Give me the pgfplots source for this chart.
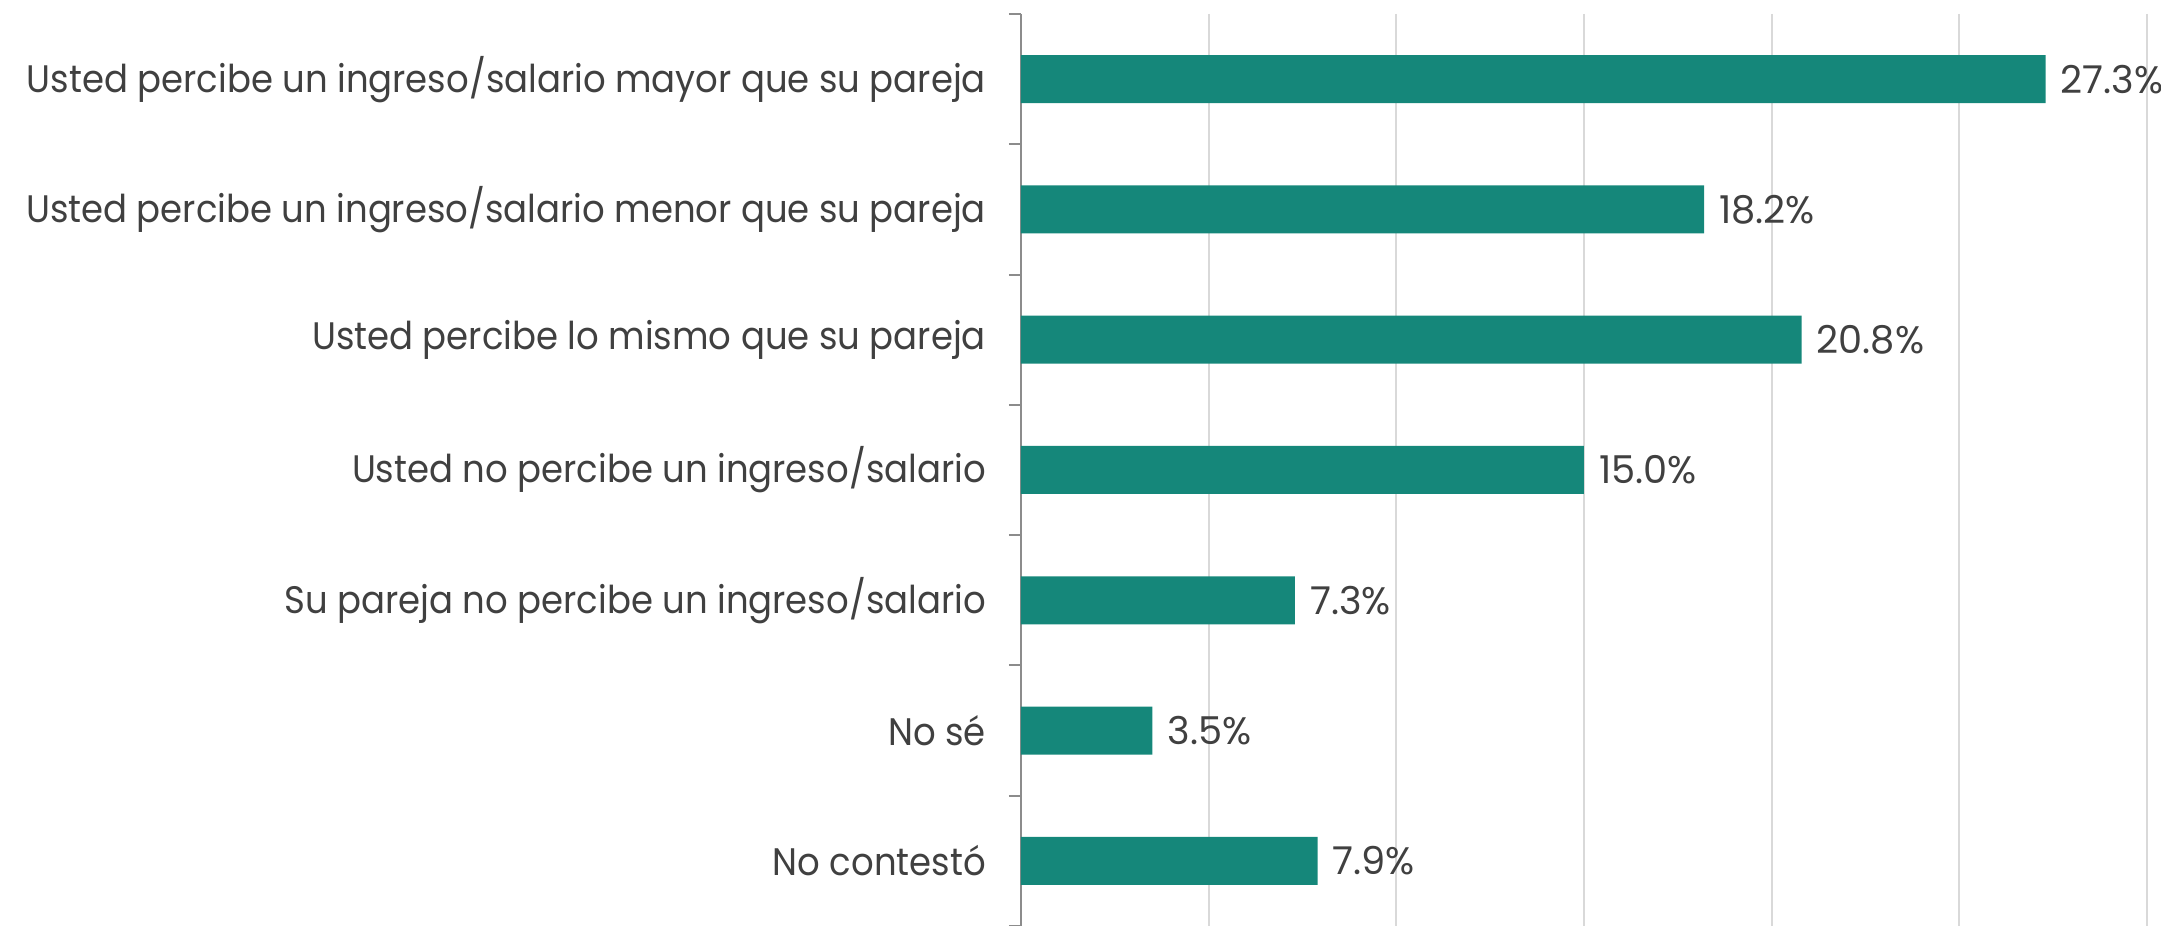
\documentclass[border=0pt]{standalone}
\usepackage{pgfplots}
\pgfplotsset{compat=1.18}
\usepackage{fontspec}
\setmainfont{Poppins}
\newfontfamily\catfont{Poppins}[FakeStretch=0.925]
\definecolor{barc}{HTML}{15877A}
\definecolor{txt}{HTML}{404040}
\definecolor{gridc}{HTML}{D9D9D9}
\definecolor{axc}{HTML}{8C8C8C}
\begin{document}
\begin{tikzpicture}
\useasboundingbox (0,0) rectangle (648.3pt,277.8pt);
\begin{axis}[
  at={(306.3pt,0pt)}, anchor=south west,
  scale only axis, width=337.8pt, height=273.6pt,
  xbar, bar width=14.4pt,
  xmin=0, xmax=30, ymin=-0.5, ymax=6.5,
  y dir=reverse,
  axis y line*=left, axis x line*=bottom,
  x axis line style={draw=none},
  y axis line style={draw=axc, line width=0.6pt},
  xtick={0,5,...,30}, xticklabels={},
  x tick style={draw=none},
  xmajorgrids, grid style={draw=gridc, line width=0.6pt},
  ytick={0,...,6},
  yticklabels={Usted percibe un ingreso/salario mayor que su pareja,
    Usted percibe un ingreso/salario menor que su pareja,
    Usted percibe lo mismo que su pareja,
    Usted no percibe un ingreso/salario,
    Su pareja no percibe un ingreso/salario,
    No sé, No contestó},
  major tick length=0pt,
  minor ytick={-0.5,0.5,...,6.5},
  minor tick length=3.6pt, tick align=outside,
  minor y tick style={draw=axc, line width=0.6pt},
  y tick label style={font=\catfont\fontsize{11.5}{13}\selectfont, text=txt, xshift=-7pt},
  nodes near coords={\pgfmathprintnumber[fixed,fixed zerofill,precision=1,assume math mode=true]{\pgfplotspointmeta}\%},
  nodes near coords style={font=\fontsize{11.5}{13}\selectfont, text=txt, anchor=west, xshift=1pt},
  clip=false,
]
\addplot[fill=barc, draw=none] coordinates {
  (27.3,0) (18.2,1) (20.8,2) (15.0,3) (7.3,4) (3.5,5) (7.9,6)};
\end{axis}
\end{tikzpicture}
\end{document}
